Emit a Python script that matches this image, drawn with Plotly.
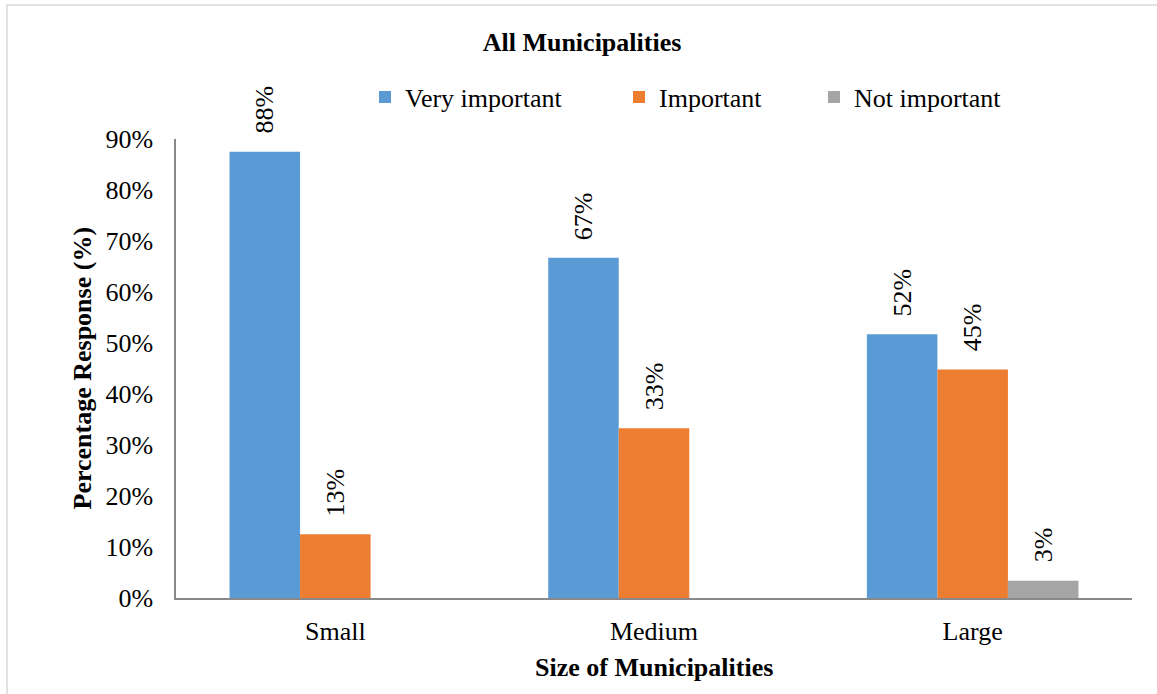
import plotly.graph_objects as go

# Survey responses by municipality size (percent of respondents)
categories = ["Small", "Medium", "Large"]
very_important = [87.5, 66.7, 51.7]
important = [12.5, 33.3, 44.8]
not_important = [0.0, 0.0, 3.4]
series_names = ["Very important", "Important", "Not important"]
y_ticks = [0, 10, 20, 30, 40, 50, 60, 70, 80, 90]
y_tick_labels = [f"{t}%" for t in y_ticks]

colors = ["#5B9BD5", "#ED7D31", "#A5A5A5"]
FONT = "Liberation Serif"
W, H = 1157, 694
M_L, M_R, M_T, M_B = 176, 25, 139, 96
PLOT_W = W - M_L - M_R
PLOT_H = H - M_T - M_B
BARGAP = 0.336

series = [very_important, important, not_important]
legend_ids = ["legend", "legend2", "legend3"]
legend_left_px = [365, 619, 814]


def pct_label(v):
    # round half up, as spreadsheet labels do
    return f"{int(v + 0.5)}%"


fig = go.Figure()
for name, vals, col, lg in zip(series_names, series, colors, legend_ids):
    fig.add_trace(go.Bar(
        x=categories, y=vals, name=name,
        marker=dict(color=col, line=dict(width=0)),
        legend=lg,
    ))

# value labels, rotated, sitting above each bar
bar_px = (1 - BARGAP) * PLOT_W / len(categories) / len(series)
annotations = []
for i, vals in enumerate(series):
    for cat, v in zip(categories, vals):
        if v <= 0:
            continue
        annotations.append(dict(
            x=cat, y=v, xref="x", yref="y",
            text=pct_label(v), textangle=-90,
            showarrow=False, xanchor="center", yanchor="bottom",
            xshift=(i - 1) * bar_px, yshift=16,
            font=dict(family=FONT, size=26, color="black"),
        ))

# axis titles
annotations.append(dict(
    x=(82 - M_L) / PLOT_W, y=0.5, xref="paper", yref="paper",
    text="<b>Percentage Response (%)</b>", textangle=-90, showarrow=False,
    xanchor="center", yanchor="middle",
    font=dict(family=FONT, size=26, color="black"),
))
annotations.append(dict(
    x=0.5, y=(598 - 667) / PLOT_H, xref="paper", yref="paper",
    text="<b>Size of Municipalities</b>", showarrow=False,
    xanchor="center", yanchor="middle",
    font=dict(family=FONT, size=26, color="black"),
))

legend_common = dict(
    orientation="h", xref="container", yref="container",
    yanchor="middle", y=1 - 97 / H, xanchor="left",
    font=dict(family=FONT, size=26, color="black"),
    bgcolor="rgba(0,0,0,0)", borderwidth=0,
)

fig.update_layout(
    width=W, height=H,
    margin=dict(l=M_L, r=M_R, t=M_T, b=M_B, autoexpand=False),
    paper_bgcolor="white", plot_bgcolor="white",
    barmode="group", bargap=BARGAP, bargroupgap=0,
    font=dict(family=FONT, size=26, color="black"),
    title=dict(
        text="<b>All Municipalities</b>", x=582 / W, xanchor="center",
        y=1 - 42 / H, yanchor="middle", xref="container", yref="container",
        font=dict(family=FONT, size=26, color="black"),
    ),
    showlegend=True,
    legend=dict(legend_common, x=legend_left_px[0] / W),
    legend2=dict(legend_common, x=legend_left_px[1] / W),
    legend3=dict(legend_common, x=legend_left_px[2] / W),
    xaxis=dict(
        showline=True, linecolor="#898989", linewidth=1.5,
        ticks="", showgrid=False, zeroline=False,
        ticklabelstandoff=9,
        tickfont=dict(family=FONT, size=26, color="black"),
    ),
    yaxis=dict(
        range=[0, 90], tickmode="array", tickvals=y_ticks, ticktext=y_tick_labels,
        showline=True, linecolor="#898989", linewidth=1.5,
        ticks="", showgrid=False, zeroline=False,
        ticklabelstandoff=16,
        tickfont=dict(family=FONT, size=26, color="black"),
    ),
    annotations=annotations,
    shapes=[dict(
        type="rect", xref="paper", yref="paper",
        x0=(7 - M_L) / PLOT_W, x1=(W + 10 - M_L) / PLOT_W,
        y0=(598 - (H + 10)) / PLOT_H, y1=(598 - 5) / PLOT_H,
        line=dict(color="#D9D9D9", width=1.5), fillcolor="rgba(0,0,0,0)",
        layer="below",
    )],
)

fig.write_html("out.html")
